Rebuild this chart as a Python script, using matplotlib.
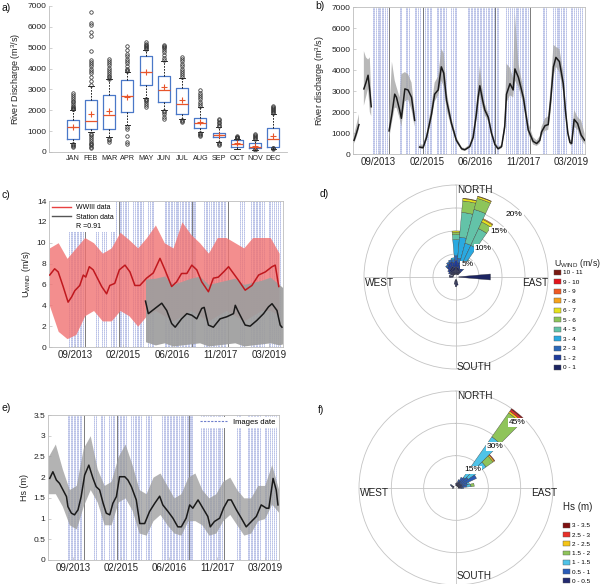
import numpy as np
import matplotlib.pyplot as plt
from matplotlib.patches import Patch
from matplotlib.lines import Line2D

plt.rcParams['font.family'] = ['Liberation Sans', 'DejaVu Sans']
plt.rcParams['mathtext.default'] = 'regular'
plt.rcParams['axes.linewidth'] = 0.6

nan = np.nan

# ---- a) monthly river discharge (box stats, m3/s)
months = ['JAN', 'FEB', 'MAR', 'APR', 'MAY', 'JUN', 'JUL', 'AUG', 'SEP', 'OCT', 'NOV', 'DEC']
q1 = [620, 1080, 1100, 1900, 3200, 2420, 1830, 1160, 700, 260, 180, 250]
med = [1200, 1470, 1750, 2700, 3850, 2950, 2320, 1400, 800, 400, 260, 600]
q3 = [1540, 2480, 2750, 3450, 4580, 3620, 3050, 1640, 920, 560, 430, 1150]
mean = [1200, 1800, 1950, 2620, 3830, 3100, 2480, 1430, 820, 420, 300, 780]
whis_lo = [430, 950, 700, 1300, 2600, 2000, 1600, 950, 460, 150, 100, 150]
whis_hi = [2000, 3150, 3500, 3850, 4900, 4350, 3550, 2150, 1200, 640, 580, 1800]
fliers = [
    [2050, 2080, 2110, 2150, 2200, 2300, 2400, 2450, 2550, 2650, 2750, 2850, 250, 300, 330, 380],
    [3200, 3400, 3600, 3800, 3900, 4000, 4100, 4200, 4300, 4400, 4850, 5550, 5750, 6100, 6200, 6700,
     200, 260, 320, 380, 450, 520, 600, 700, 800, 880],
    [3520, 3580, 3650, 3750, 3850, 3950, 4050, 4150, 4250, 4350, 4450, 500, 560, 620],
    [3900, 3950, 4000, 4100, 4250, 4350, 4450, 4600, 4700, 4900, 5100, 400, 500, 750, 1100, 1200],
    [4950, 5000, 5050, 5100, 5150, 5200, 5250, 2150, 2250, 2350, 2450, 2500, 2550],
    [4400, 4500, 4650, 4800, 4900, 5000, 5050, 5100, 5150, 1600, 1700, 1800, 1900, 1950],
    [3600, 3700, 3800, 3900, 4000, 4100, 4200, 4350, 4450, 4550, 1450, 1500, 1550],
    [2200, 2300, 2400, 2550, 2650, 2750, 2850, 2950, 750, 800, 850, 900],
    [1250, 1300, 1380, 1450, 1530, 1600, 350, 400, 430],
    [650, 680, 710, 740, 770],
    [600, 650, 700, 750, 800, 850, 100, 130],
    [1850, 1900, 1950, 2000, 2050, 2100, 2150, 2200, 150, 180, 200],
]

# ---- shared time axis (decimal years)
date_ticks = [2013.72, 2015.095, 2016.47, 2017.845, 2019.22]
date_labels = ['09/2013', '02/2015', '06/2016', '11/2017', '03/2019']
image_dates = [2013.56, 2013.60, 2013.64, 2013.69, 2013.73, 2013.77, 2013.82, 2013.86, 2013.90, 2013.95,
               2014.32, 2014.37, 2014.50, 2014.54, 2014.59, 2014.75, 2014.80, 2014.84, 2014.89,
               2015.00, 2015.04, 2015.09, 2015.13, 2015.18, 2015.22,
               2015.38, 2015.42, 2015.47, 2015.51, 2015.56, 2015.60, 2015.65,
               2015.80, 2015.85, 2015.89, 2015.94,
               2016.26, 2016.30, 2016.35, 2016.39, 2016.43, 2016.48, 2016.52, 2016.57, 2016.61, 2016.65,
               2016.70, 2016.74, 2016.79, 2016.83, 2016.87, 2016.92, 2016.96, 2017.00, 2017.05, 2017.09, 2017.13,
               2017.37, 2017.42, 2017.47, 2017.52, 2017.58, 2017.63, 2017.67, 2017.71, 2017.76, 2017.80,
               2017.85, 2017.89, 2017.93, 2017.98,
               2018.40, 2018.45, 2018.50,
               2018.71, 2018.75, 2018.80, 2018.84, 2018.88, 2018.93, 2018.97, 2019.02, 2019.06,
               2019.20, 2019.25, 2019.30, 2019.36, 2019.41, 2019.46, 2019.52]
solid_dates = [2014.01, 2014.98, 2017.03, 2018.04]

# ---- b) river discharge series
b_t = [2013.02, 2013.09, 2013.16, 2013.23, 2013.30, 2013.36, 2013.42, 2013.47, 2013.51, 2013.70,
       2014.02, 2014.10, 2014.18, 2014.23, 2014.32, 2014.37, 2014.47, 2014.56, 2014.66, 2014.75, 2014.82,
       2014.89, 2014.99, 2015.09, 2015.23, 2015.32, 2015.42, 2015.51, 2015.58, 2015.66, 2015.80,
       2015.94, 2016.09, 2016.18, 2016.32, 2016.42, 2016.51, 2016.56, 2016.61, 2016.69, 2016.75,
       2016.85, 2016.94, 2017.04, 2017.13, 2017.23, 2017.32, 2017.37, 2017.47, 2017.56, 2017.61,
       2017.71, 2017.85, 2017.99, 2018.13, 2018.23, 2018.32, 2018.37, 2018.47, 2018.56, 2018.63,
       2018.71, 2018.78, 2018.88, 2018.99, 2019.05, 2019.12, 2019.18, 2019.23, 2019.30, 2019.40,
       2019.50, 2019.60]
b_q = [650, 1000, 1400, nan, 3100, 3400, 3750, 3000, 2250, nan,
       1100, 1900, 2850, 2700, 2100, 1700, 3100, 3050, 2700, 1600, nan,
       330, 300, 800, 1900, 2850, 3050, 4150, 3850, 2550, 1450,
       650, 250, 200, 350, 800, 1900, 2700, 3250, 2550, 2100,
       1750, 1000, 450, 250, 350, 1300, 2850, 3350, 3050, 4050,
       3650, 2700, 1150, 600, 500, 650, 1050, 1350, 1400, 2550,
       4150, 4600, 4400, 3350, 2100, 1000, 550, 500, 1650, 1450,
       900, 650]
b_lo = [500, 800, 1200, nan, 2300, 2700, 3100, 2000, 1800, nan,
        700, 1500, 2200, 2200, 1700, 1300, 2500, 2600, 2100, 1300, nan,
        250, 250, 650, 1600, 2500, 2800, 3500, 3200, 2100, 1250,
        550, 180, 150, 280, 650, 1600, 2200, 2800, 2200, 1850,
        1550, 850, 380, 180, 280, 1050, 2450, 2800, 2700, 3500,
        3200, 2400, 950, 450, 380, 500, 850, 1100, 1150, 2000,
        3700, 4150, 3900, 2900, 1800, 850, 450, 400, 1300, 1150,
        700, 450]
b_hi = [900, 1400, 1900, nan, 4900, 4600, 4500, 4600, 2800, nan,
        1600, 4400, 3500, 3200, 2700, 3800, 3900, 3800, 3400, 2000, nan,
        450, 450, 1000, 2300, 3400, 3700, 5000, 4800, 3000, 1700,
        800, 320, 280, 450, 1100, 2300, 3300, 4200, 3000, 2400,
        1950, 1200, 600, 350, 450, 1700, 4300, 4100, 3600, 6700,
        4300, 3100, 1500, 800, 650, 850, 1300, 1700, 1800, 3200,
        5200, 5100, 5000, 3900, 2500, 1200, 700, 650, 2100, 1750,
        1600, 950]

# ---- c) wind speed
c_ww_t = [2013.01, 2013.15, 2013.25, 2013.39, 2013.53, 2013.63, 2013.72, 2013.86, 2013.96,
          2014.03, 2014.13, 2014.24, 2014.33, 2014.48, 2014.62, 2014.71, 2014.85, 2014.98,
          2015.14, 2015.28, 2015.42, 2015.56, 2015.75, 2015.94,
          2016.13, 2016.27, 2016.46, 2016.60, 2016.74, 2016.89,
          2017.03, 2017.17, 2017.31, 2017.50, 2017.64, 2017.78, 2017.93,
          2018.07, 2018.21, 2018.35, 2018.54, 2018.73, 2018.92,
          2019.11, 2019.30, 2019.39, 2019.49]
c_ww = [6.9, 7.5, 7.2, 5.8, 4.3, 4.8, 5.4, 5.9, 6.9,
        6.7, 7.7, 7.4, 6.8, 5.8, 5.1, 5.9, 6.1, 7.4,
        7.85, 7.2, 5.9, 5.9, 6.6, 7.1,
        8.5, 7.4, 5.8, 6.25, 7.05, 7.05,
        7.85, 7.4, 6.25, 5.3, 6.6, 6.7, 7.2,
        7.7, 7.05, 6.4, 5.45, 5.9, 6.9,
        7.2, 7.7, 7.85, 5.8]
c_band_t = [2013.0, 2013.25, 2013.5, 2013.75, 2014.0, 2014.25, 2014.5, 2014.75, 2015.0, 2015.25,
            2015.5, 2015.75, 2016.0, 2016.25, 2016.5, 2016.75, 2017.0, 2017.25, 2017.5, 2017.75,
            2018.0, 2018.25, 2018.5, 2018.75, 2019.0, 2019.25, 2019.5]
c_ww_lo = [4.0, 1.5, 0.8, 1.2, 3.0, 3.5, 2.5, 2.5, 3.5, 3.0,
           2.0, 3.0, 3.5, 3.0, 2.5, 3.0, 3.5, 3.0, 2.5, 3.0,
           3.5, 3.0, 2.5, 3.0, 3.5, 3.5, 3.0]
c_ww_hi = [9.5, 10.0, 8.5, 9.5, 10.5, 10.0, 9.0, 9.5, 11.0, 10.3,
           9.5, 10.5, 11.7, 10.0, 9.5, 12.0, 10.8, 10.0, 9.0, 10.5,
           10.5, 10.0, 9.5, 10.5, 10.5, 10.5, 9.0]
c_st_t = [2015.72, 2015.80, 2015.99, 2016.18, 2016.32, 2016.46, 2016.56, 2016.74, 2016.89,
          2017.03, 2017.17, 2017.31, 2017.38, 2017.50, 2017.64, 2017.83,
          2018.02, 2018.21, 2018.26, 2018.35, 2018.54, 2018.68, 2018.87,
          2019.06, 2019.20, 2019.30, 2019.44, 2019.53, 2019.58]
c_st = [4.4, 3.2, 3.7, 4.2, 3.5, 2.25, 1.9, 2.7, 3.2,
        3.05, 2.7, 3.7, 3.8, 2.1, 1.9, 2.7,
        2.9, 3.2, 4.0, 3.35, 2.1, 2.0, 2.55,
        3.2, 3.85, 4.15, 3.5, 2.1, 1.9]
c_stb_t = [2015.72, 2016.0, 2016.25, 2016.5, 2016.75, 2017.0, 2017.25, 2017.5, 2017.75,
           2018.0, 2018.25, 2018.5, 2018.75, 2019.0, 2019.25, 2019.5, 2019.6]
c_st_lo = [0.5, 0.2, 0.4, 0.1, 0.2, 0.3, 0.4, 0.1, 0.2, 0.3, 0.4, 0.1, 0.2, 0.3, 0.4, 0.2, 0.3]
c_st_hi = [6.5, 6.6, 6.8, 6.0, 6.3, 6.6, 6.8, 6.0, 6.2, 6.4, 6.6, 6.0, 6.2, 6.4, 6.7, 6.0, 5.7]

# ---- e) significant wave height
e_t = [2013.04, 2013.13, 2013.23, 2013.32, 2013.42, 2013.52, 2013.56, 2013.66, 2013.75, 2013.85, 2013.94,
       2014.04, 2014.16, 2014.28, 2014.37, 2014.47, 2014.57, 2014.66, 2014.76, 2014.85, 2014.95,
       2015.04, 2015.19, 2015.28, 2015.38, 2015.52, 2015.62, 2015.76, 2015.90,
       2016.05, 2016.19, 2016.28, 2016.43, 2016.57, 2016.71, 2016.81, 2016.95,
       2017.05, 2017.14, 2017.29, 2017.43, 2017.57, 2017.64, 2017.76, 2017.91,
       2018.02, 2018.15, 2018.24, 2018.39, 2018.53, 2018.67, 2018.82, 2018.96,
       2019.10, 2019.25, 2019.32, 2019.44, 2019.53, 2019.58]
e_hs = [1.97, 2.13, 1.93, 1.85, 1.69, 1.53, 1.29, 1.13, 1.09, 1.21, 1.53,
        2.05, 2.29, 1.97, 1.77, 1.69, 1.37, 1.13, 1.09, 1.37, 1.53,
        2.01, 2.01, 1.93, 1.77, 1.45, 0.88, 0.88, 1.17,
        1.37, 1.54, 1.33, 1.17, 1.01, 0.80, 0.80, 1.01,
        1.33, 1.25, 1.45, 1.25, 1.05, 0.80, 0.93, 1.01,
        1.25, 1.45, 1.45, 1.21, 1.01, 0.80, 0.93, 1.05,
        1.33, 1.25, 1.25, 1.97, 1.69, 1.33]
e_band_t = [2013.0, 2013.2, 2013.4, 2013.6, 2013.8, 2014.0, 2014.2, 2014.4, 2014.6, 2014.8, 2015.0, 2015.2,
            2015.4, 2015.6, 2015.8, 2016.0, 2016.2, 2016.4, 2016.6, 2016.8, 2017.0, 2017.2, 2017.4, 2017.6,
            2017.8, 2018.0, 2018.2, 2018.4, 2018.6, 2018.8, 2019.0, 2019.2, 2019.4, 2019.6]
e_lo = [1.6, 1.6, 1.3, 0.85, 0.75, 1.3, 1.7, 1.4, 0.85, 0.85, 1.4, 1.5, 1.2, 0.65, 0.6, 0.95, 1.1,
        0.85, 0.65, 0.6, 0.95, 0.95, 0.85, 0.6, 0.65, 0.95, 1.1, 0.85, 0.6, 0.65, 0.95, 1.0, 1.35, 1.15]
e_hi = [2.5, 2.8, 2.2, 1.7, 1.8, 2.7, 3.0, 2.2, 1.8, 1.9, 2.5, 2.8, 2.3, 1.7, 1.6, 2.0, 2.1,
        1.8, 1.5, 1.6, 2.0, 2.1, 1.7, 1.5, 1.6, 1.9, 2.0, 1.7, 1.5, 1.5, 1.8, 1.8, 2.3, 1.7]

# ---- d) wind rose: frequency (%) per speed bin, per direction (deg)
wind_bins = ['0 - 1', '1 - 2', '2 - 3', '3 - 4', '4 - 5', '5 - 6', '6 - 7', '7 - 8', '8 - 9', '9 - 10', '10 - 11']
wind_colors = ['#1c2461', '#1f3c9c', '#2c68b8', '#2aa9e0', '#63c3a8', '#8dc55a', '#e6e21c',
               '#f6a31b', '#ef5a24', '#e3141c', '#7a1a12']
d_dirs = [0, 10, 20, 30, 40, 350, 340, 330, 320, 310, 300, 280, 270, 90, 170, 180, 190]
d_freq = [[1.5, 1.5, 1.0, 3.5, 1.1, 0.5, 0.3],
          [1.5, 1.0, 1.0, 4.6, 5.4, 2.5, 0.5, 0.1],
          [1.3, 0.7, 0.8, 4.2, 7.6, 2.5, 0.4, 0.1],
          [1.0, 0.7, 1.1, 4.2, 4.0, 1.6, 0.6, 0.2],
          [0.8, 0.7, 1.0, 1.0, 0.5],
          [1.5, 1.1, 0.6, 0.4],
          [1.8, 1.0, 0.5],
          [1.6, 1.0, 0.4],
          [1.4, 0.8, 0.4],
          [1.0, 0.6],
          [0.8, 0.4],
          [0.9],
          [0.8],
          [6.9],
          [1.2],
          [1.5],
          [1.0]]

# ---- f) wave rose
hs_bins = ['0 - 0.5', '0.5 - 1', '1 - 1.5', '1.5 - 2', '2 - 2.5', '2.5 - 3', '3 - 3.5']
hs_colors = ['#222a70', '#2a5cb8', '#4fc3e8', '#8fc45a', '#f5c518', '#e8302a', '#7f1010']
f_dirs = [40, 50, 60, 30, 20, 70, 80, 90, 10, 0, 300, 290, 270]
f_freq = [[1.5, 3.5, 23.0, 13.5, 1.0, 1.0, 1.0],
          [1.5, 4.5, 10.0, 4.0, 0.7, 0.3],
          [2.0, 7.5],
          [2.5, 2.0],
          [2.0, 1.0],
          [2.0, 2.5, 1.0],
          [2.0, 2.0, 2.0, 1.5],
          [1.5, 1.0],
          [1.5],
          [1.2],
          [1.5, 0.5],
          [1.2],
          [0.8]]

W, H = 602, 584
fig = plt.figure(figsize=(W / 100, H / 100), dpi=100)
spine_c = '#bdbdbd'
dash_c = '#6e7fcc'


def px_axes(x0, y0, x1, y1, **kw):
    return fig.add_axes([x0 / W, 1 - y1 / H, (x1 - x0) / W, (y1 - y0) / H], **kw)


def style(ax, box=True):
    for s in ax.spines.values():
        s.set_color(spine_c)
        s.set_linewidth(0.6)
    if not box:
        ax.spines['top'].set_visible(False)
        ax.spines['right'].set_visible(False)
    ax.tick_params(direction='in', length=2, width=0.5, color=spine_c, labelsize=6, labelcolor='#222222', pad=2)


def time_axes(ax, ylim, yticks, ylabs, ylabel):
    ax.set_xlim(2012.99, 2019.61)
    ax.set_ylim(*ylim)
    ax.set_xticks(date_ticks)
    ax.set_xticklabels(date_labels)
    ax.set_yticks(yticks)
    ax.set_yticklabels(ylabs)
    style(ax)
    ax.tick_params(axis='x', labelsize=7)
    ax.set_ylabel(ylabel, fontsize=6.5, color='#222222', labelpad=3)
    ax.vlines(image_dates, 0, 1, transform=ax.get_xaxis_transform(), colors=dash_c,
              linestyles=(0, (2, 1.2)), lw=0.45, zorder=1)
    ax.vlines(solid_dates, 0, 1, transform=ax.get_xaxis_transform(), colors='#666666', lw=0.6, zorder=1)


# a)
ax = px_axes(49, 6, 287, 152)
stats = []
for i in range(12):
    stats.append(dict(med=med[i], q1=q1[i], q3=q3[i], whislo=whis_lo[i], whishi=whis_hi[i],
                      mean=mean[i], fliers=np.array(fliers[i]), label=months[i]))
ax.bxp(stats, positions=range(1, 13), widths=0.65, showmeans=True, capwidths=0.3,
       boxprops=dict(color='#4a78c8', lw=0.9),
       medianprops=dict(color='#e8552b', lw=0.9),
       meanprops=dict(marker='+', markeredgecolor='#e8552b', markersize=4, mew=0.8),
       whiskerprops=dict(color='k', ls=(0, (2, 1.5)), lw=0.6),
       capprops=dict(color='k', lw=0.6),
       flierprops=dict(marker='o', mfc='none', mec='#333333', ms=2.5, mew=0.55))
ax.set_xlim(-0.3, 12.75)
ax.set_ylim(0, 7000)
ax.set_yticks(range(0, 7001, 1000))
style(ax, box=False)
ax.tick_params(axis='x', labelsize=5.2, length=0)
ax.set_ylabel('River Discharge (m$^3$/s)', fontsize=6.5, color='#222222', labelpad=3)

# b)
ax = px_axes(353, 7, 585, 154)
time_axes(ax, (0, 7000), range(0, 7001, 1000), [str(v) for v in range(0, 7001, 1000)],
          'River discharge (m$^3$/s)')
ax.fill_between(b_t, b_lo, b_hi, color='#a6a6a6', alpha=0.8, lw=0, zorder=2)
ax.plot(b_t, b_q, color='#1a1a1a', lw=1.1, zorder=3)

# c)
ax = px_axes(49, 201, 283, 347)
time_axes(ax, (0, 14), range(0, 15, 2), [str(v) for v in range(0, 15, 2)], 'U$_{WIND}$ (m/s)')
ax.fill_between(c_band_t, c_ww_lo, c_ww_hi, color='#f07272', alpha=0.8, lw=0, zorder=2)
ax.fill_between(c_stb_t, c_st_lo, c_st_hi, color='#9e9e9e', alpha=0.92, lw=0, zorder=2)
ax.plot(c_ww_t, c_ww, color='#c0181e', lw=1.1, zorder=3)
ax.plot(c_st_t, c_st, color='#1a1a1a', lw=1.1, zorder=3)
leg = ax.legend(handles=[Line2D([], [], color='#e84040', lw=1), Line2D([], [], color='#555555', lw=1),
                         Line2D([], [], color='none')],
                labels=['WWIII data', 'Station data', 'R =0.91'], loc='upper left', fontsize=5,
                frameon=True, framealpha=1, edgecolor='none', handlelength=2.6, labelspacing=0.3,
                borderaxespad=0.2, borderpad=0.3)
leg.set_zorder(5)

# e)
ax = px_axes(48, 415, 279, 560)
time_axes(ax, (0, 3.5), np.arange(0, 3.6, 0.5), ['0', '0.5', '1', '1.5', '2', '2.5', '3', '3.5'], 'Hs (m)')
ax.fill_between(e_band_t, e_lo, e_hi, color='#9a9a9a', alpha=0.75, lw=0, zorder=2)
ax.plot(e_t, e_hs, color='#1a1a1a', lw=1.1, zorder=3)
leg = ax.legend(handles=[Line2D([], [], color=dash_c, lw=0.8, ls=(0, (2, 1.2)))], labels=['Images date'],
                loc='upper right', fontsize=5.5, frameon=True, framealpha=1, edgecolor='none',
                handlelength=3.5, borderaxespad=0.2, borderpad=0.3)
leg.set_zorder(5)


def rose(ax, rmax, rings, dirs, freq, colors, r0, ring_labels):
    ax.set_theta_zero_location('N')
    ax.set_theta_direction(-1)
    ax.set_ylim(0, rmax)
    ax.set_yticks(rings)
    ax.set_yticklabels([])
    ax.set_xticks(np.radians([0, 90, 180, 270]))
    ax.set_xticklabels([])
    ax.grid(color='#c4c4c4', lw=0.6)
    ax.spines['polar'].set_color('#c4c4c4')
    ax.spines['polar'].set_linewidth(0.6)
    for d, row in zip(dirs, freq):
        base = r0
        for k, f in enumerate(row):
            ax.bar(np.radians(d), f, width=np.radians(10), bottom=base, color=colors[k],
                   edgecolor='#3a3a3a', lw=0.25, zorder=3)
            base += f
    for r, lab in ring_labels:
        ax.text(np.radians(43), r, lab, fontsize=6, ha='center', va='center', zorder=6,
                bbox=dict(fc='white', ec='none', pad=0.6))


def compass(ax, ny, wy, ey, sy, ex):
    kw = dict(transform=ax.transAxes, fontsize=7.2, color='#222222', va='center')
    ax.text(0.505, ny, 'NORTH', ha='left', **kw)
    ax.text(0.005, wy, 'WEST', ha='left', **kw)
    ax.text(ex, ey, 'EAST', ha='right', **kw)
    ax.text(0.505, sy, 'SOUTH', ha='left', **kw)


# d)
axd = px_axes(364, 185, 548, 369, projection='polar')
rose(axd, 20, [5, 10, 15], d_dirs, d_freq, wind_colors, 0.6,
     [(3.6, '5%'), (8.6, '10%'), (13.6, '15%'), (18.6, '20%')])
compass(axd, 0.975, 0.465, 0.465, 0.01, 1.0)

# f)
axf = px_axes(359, 391, 553, 585, projection='polar')
rose(axf, 45, [15, 30], f_dirs, f_freq, hs_colors, 1.0,
     [(11.5, '15%'), (26.5, '30%'), (41.5, '45%')])
compass(axf, 0.972, 0.475, 0.475, 0.045, 1.02)

# legends of the roses
fig.text(554 / W, 1 - 264 / H, 'U$_{WIND}$ (m/s)', fontsize=6.3, va='center', ha='left', color='#222222')
fig.legend(handles=[Patch(fc=c, ec='#555555', lw=0.3) for c in wind_colors[::-1]], labels=wind_bins[::-1],
           loc='upper left', bbox_to_anchor=(550 / W, 1 - 266 / H), frameon=False, fontsize=4.6,
           handlelength=1.05, handleheight=0.8, labelspacing=0.6, handletextpad=0.4, borderpad=0.1)
fig.text(563 / W, 1 - 507 / H, 'Hs (m)', fontsize=7, va='center', ha='left', color='#222222')
fig.legend(handles=[Patch(fc=c, ec='#555555', lw=0.3) for c in hs_colors[::-1]], labels=hs_bins[::-1],
           loc='upper left', bbox_to_anchor=(559 / W, 1 - 519 / H), frameon=False, fontsize=4.6,
           handlelength=1.05, handleheight=0.8, labelspacing=0.56, handletextpad=0.4, borderpad=0.1)

# panel letters
for lab, x, y in [('a)', 1, 8), ('b)', 315, 6), ('c)', 1, 195), ('d)', 320, 194), ('e)', 1, 408), ('f)', 318, 410)]:
    fig.text(x / W, 1 - y / H, lab, fontsize=7.5, va='center', ha='left', color='#111111')

fig.savefig('out.png', dpi=100, facecolor='white')
